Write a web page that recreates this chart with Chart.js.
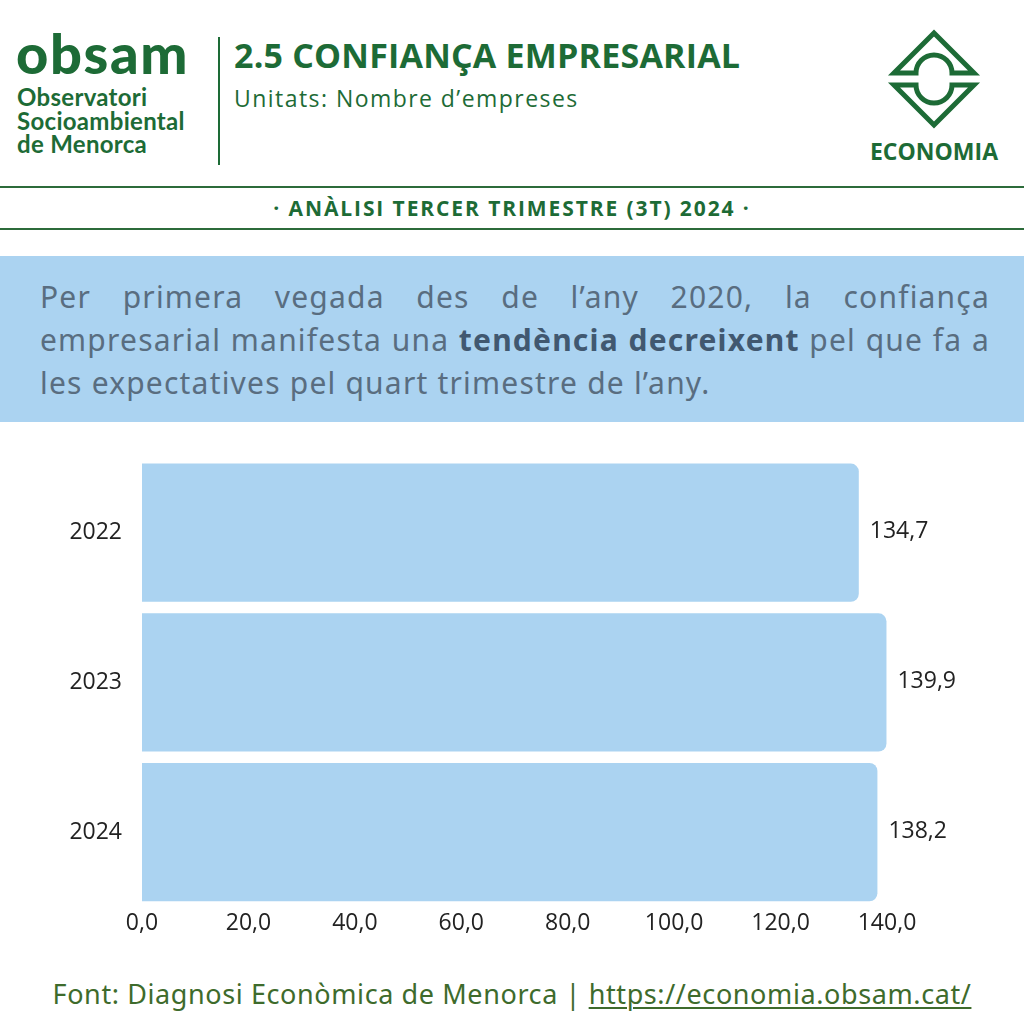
<!DOCTYPE html>
<html>
<head>
<meta charset="utf-8">
<script src="https://cdn.jsdelivr.net/npm/chart.js@4"></script>
<style>
  body { margin: 0; width: 1024px; height: 1024px; background: #fff; position: relative; overflow: hidden; font-family: "Open Sans", sans-serif; }
  .abs { position: absolute; }
  #obsam { left: 16px; top: 20px; font-family: Lato, sans-serif; font-weight: 900; font-size: 56px; color: #1d6b36; line-height: 66px; letter-spacing: 1.6px; }
  #obsamSub { left: 17px; top: 85px; font-family: Lato, sans-serif; font-weight: 700; font-size: 24px; color: #1d6b36; line-height: 23.5px; letter-spacing: 0.3px; }
  #vline { left: 218px; top: 37px; width: 2px; height: 128px; background: #1d6b36; }
  #title { left: 234px; top: 32px; font-weight: 700; font-size: 34px; color: #1d6b36; letter-spacing: 0.2px; line-height: 46px; }
  #units { left: 234px; top: 82px; font-size: 23px; color: #1d6b36; letter-spacing: 1.45px; }
  .hline { left: 0; width: 1024px; height: 2px; background: #2c6b3a; }
  #sub { left: 0; width: 1024px; top: 194px; text-align: center; font-weight: 700; font-size: 21px; color: #1d6b36; letter-spacing: 1.9px; }
  #band { left: 0; top: 256px; width: 1024px; height: 166px; background: #abd3f1; }
  .para { left: 40px; width: 950px; font-family: "Noto Sans", sans-serif; font-size: 30px; color: #596d80; letter-spacing: 1.2px; text-align: justify; text-align-last: justify; white-space: nowrap; line-height: 40px; }
  .para b { color: #415870; }
  #foot { left: 0; width: 1024px; top: 975px; text-align: center; font-family: "Noto Sans", sans-serif; font-size: 27px; color: #3e6b2c; letter-spacing: 0.6px; }
  #foot span { text-decoration: underline; text-decoration-thickness: 2px; text-underline-offset: 3px; }
  #chartBox { left: 0; top: 424px; width: 1024px; height: 526px; }
</style>
</head>
<body>
<div id="obsam" class="abs">obsam</div>
<div id="obsamSub" class="abs">Observatori<br>Socioambiental<br>de Menorca</div>
<div id="vline" class="abs"></div>
<div id="title" class="abs">2.5 CONFIANÇA EMPRESARIAL</div>
<div id="units" class="abs">Unitats: Nombre d’empreses</div>

<svg class="abs" style="left:0;top:0" width="1024" height="180">
  <g fill="none" stroke="#1d6b36" stroke-width="5" stroke-linejoin="miter">
    <path d="M934 33 L974 73 L952 73 A18 18 0 0 0 916 73 L894 73 Z"/>
    <path d="M894 85 L916 85 A18 18 0 0 0 952 85 L974 85 L934 125 Z"/>
  </g>
  <text x="934" y="160" text-anchor="middle" font-family="Open Sans" font-weight="700" font-size="23" fill="#1d6b36">ECONOMIA</text>
</svg>

<div class="abs hline" style="top:186px"></div>
<div id="sub" class="abs">· ANÀLISI TERCER TRIMESTRE (3T) 2024 ·</div>
<div class="abs hline" style="top:228px"></div>

<div id="band" class="abs"></div>
<div class="abs para" style="top:277px">Per primera vegada des de l’any 2020, la confiança</div>
<div class="abs para" style="top:320px">empresarial manifesta una <b>tendència decreixent</b> pel que fa a</div>
<div class="abs para" style="top:363px; text-align-last:left">les expectatives pel quart trimestre de l’any.</div>

<div id="chartBox" class="abs"><canvas id="chart"></canvas></div>

<div id="foot" class="abs">Font: Diagnosi Econòmica de Menorca | <span>https://economia.obsam.cat/</span></div>

<script>
// Dades del gràfic
const years = ["2022", "2023", "2024"];
const values = [134.7, 139.9, 138.2];
const xTicks = [0, 20, 40, 60, 80, 100, 120, 140];

const fmt = v => v.toFixed(1).replace(".", ",");

// Etiquetes de valor al final de cada barra
const valueLabels = {
  id: "valueLabels",
  afterDatasetsDraw(chart) {
    const ctx = chart.ctx;
    const meta = chart.getDatasetMeta(0);
    ctx.save();
    ctx.font = "23px 'Open Sans'";
    ctx.fillStyle = "#222";
    ctx.textAlign = "left";
    ctx.textBaseline = "middle";
    meta.data.forEach((bar, i) => {
      ctx.fillText(fmt(values[i]), bar.x + 11, bar.y - 1);
    });
    ctx.restore();
  }
};

new Chart(document.getElementById("chart").getContext("2d"), {
  type: "bar",
  data: {
    labels: years,
    datasets: [{
      data: values,
      backgroundColor: "#abd3f1",
      borderRadius: 8,
      barPercentage: 0.923,
      categoryPercentage: 1
    }]
  },
  options: {
    indexAxis: "y",
    responsive: true,
    maintainAspectRatio: false,
    animation: false,
    layout: { padding: { top: 0, right: 137, left: 0, bottom: 0 } },
    plugins: { legend: { display: false }, tooltip: { enabled: false } },
    scales: {
      x: {
        min: 0,
        max: 140,
        afterBuildTicks: axis => { axis.ticks = xTicks.map(v => ({ value: v })); },
        afterFit: axis => { axis.height = 43; },
        grid: { display: false, drawTicks: false },
        border: { display: false },
        ticks: { color: "#222", font: { family: "Open Sans", size: 23 }, padding: 3, callback: v => fmt(v) }
      },
      y: {
        afterFit: axis => { axis.width = 142; },
        grid: { display: false, drawTicks: false },
        border: { display: false },
        ticks: { color: "#222", font: { family: "Open Sans", size: 23 }, padding: 20 }
      }
    }
  },
  plugins: [valueLabels]
});
</script>
</body>
</html>
